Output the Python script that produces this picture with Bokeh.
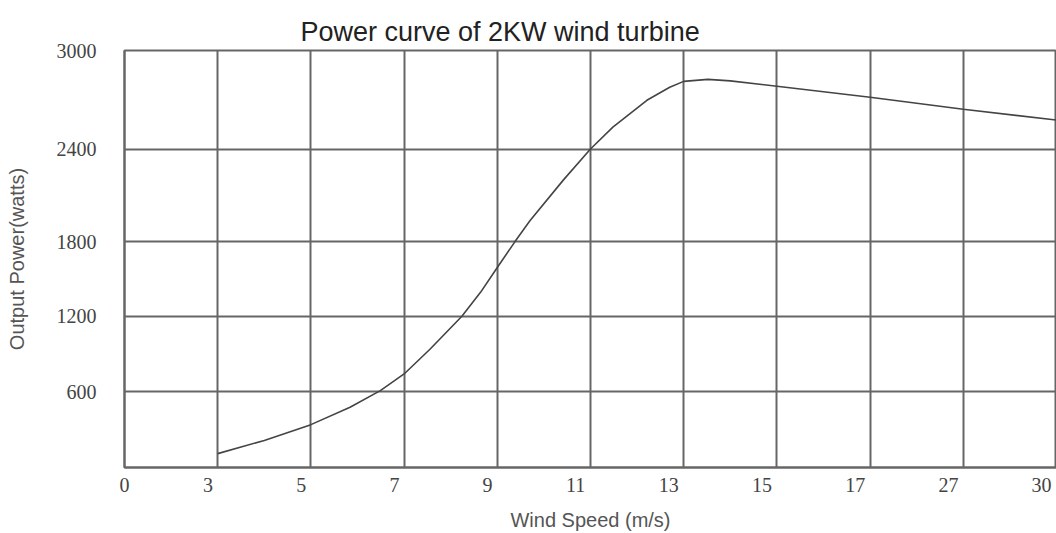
import numpy as np
from bokeh.plotting import figure
from bokeh.models import Range1d, FixedTicker, CustomJSTickFormatter, Title
from bokeh.embed import file_html
from bokeh.resources import INLINE

# ---- data ----
x_tick_labels = ["0", "3", "5", "7", "9", "11", "13", "15", "17", "27", "30"]
x_tick_values = [0, 3, 5, 7, 9, 11, 13, 15, 17, 27, 30]
y_tick_values = [0, 600, 1200, 1800, 2400, 3000]
y_tick_labels = ["", "600", "1200", "1800", "2400", "3000"]

wind_speed = [3, 4, 5, 5.84, 6.49, 7, 7.56, 8.24, 8.64, 9, 9.38, 9.7, 10.42,
              11, 11.48, 12.21, 12.7, 13, 13.52, 14, 15, 17, 27, 30]
power_w = [110, 215, 340, 478, 610, 742, 940, 1200, 1392, 1592, 1800, 1935, 2200,
           2400, 2533, 2697, 2776, 2812, 2824, 2815, 2782, 2715, 2642, 2576]

# ---- axis layout (uneven spacing of the original grid, in display units) ----
y_display = [0, 76, 152, 227, 320, 419]
x_display = list(range(len(x_tick_values)))

xs = np.interp(wind_speed, x_tick_values, x_display)
ys = np.interp(power_w, y_tick_values, y_display)

W, H = 1056, 533
left, right, top, bottom = 124, 0, 50, 64
frame_w = W - left - right
px_per_x = frame_w / (len(x_display) - 1)

p = figure(width=W, height=H, output_backend="svg", toolbar_location=None,
           x_range=Range1d(0, x_display[-1]), y_range=Range1d(0, y_display[-1]),
           min_border_left=left, min_border_right=right,
           min_border_top=top, min_border_bottom=bottom)

p.title = Title(text="Power curve of 2KW wind turbine", align="left", offset=176,
                text_font="Liberation Sans", text_font_size="27px",
                text_font_style="normal", text_color="#222222", standoff=8)

p.line(xs, ys, line_color="#444444", line_width=1.6)

# grids at every tick
p.xgrid.ticker = FixedTicker(ticks=x_display)
p.ygrid.ticker = FixedTicker(ticks=y_display)
for g in (p.xgrid, p.ygrid):
    g.grid_line_color = "#666666"
    g.grid_line_width = 2
    g.grid_line_alpha = 1.0

p.outline_line_color = "#666666"
p.outline_line_width = 2

TICK_FONT = "Liberation Serif"
TICK_SIZE = "20px"
TICK_COLOR = "#444444"

# x axis: labels sit just left of each grid line (the first one stays on the frame edge)
shifts = [(len(lbl) * 5.2 + 4.5) / px_per_x for lbl in x_tick_labels]
x_label_pos = [max(0.0, float(i - s)) for i, s in zip(x_display, shifts)]
xa = p.xaxis[0]
xa.ticker = FixedTicker(ticks=x_label_pos)
xa.formatter = CustomJSTickFormatter(args=dict(labs=x_tick_labels),
                                     code="return labs[Math.round(tick)];")

ya = p.yaxis[0]
ya.ticker = FixedTicker(ticks=y_display[1:])
ya.formatter = CustomJSTickFormatter(args=dict(pos=y_display, labs=y_tick_labels), code="""
let best = 0;
for (let i = 0; i < pos.length; i++) { if (Math.abs(pos[i]-tick) < Math.abs(pos[best]-tick)) best = i; }
return labs[best];
""")

for ax in (xa, ya):
    ax.axis_line_color = "#666666"
    ax.axis_line_width = 2
    ax.major_tick_line_color = None
    ax.minor_tick_line_color = None
    ax.major_label_text_font = TICK_FONT
    ax.major_label_text_font_size = TICK_SIZE
    ax.major_label_text_color = TICK_COLOR
    ax.axis_label_text_font = "Liberation Sans"
    ax.axis_label_text_font_size = "20px"
    ax.axis_label_text_font_style = "normal"
    ax.axis_label_text_color = "#555555"

xa.axis_label = "Wind Speed (m/s)"
xa.major_label_standoff = 4
xa.axis_label_standoff = 14
ya.axis_label = "Output Power(watts)"
ya.major_label_standoff = 22
ya.axis_label_standoff = 26

p.background_fill_color = "white"
p.border_fill_color = "white"

open("out.html", "w").write(file_html(p, INLINE))
